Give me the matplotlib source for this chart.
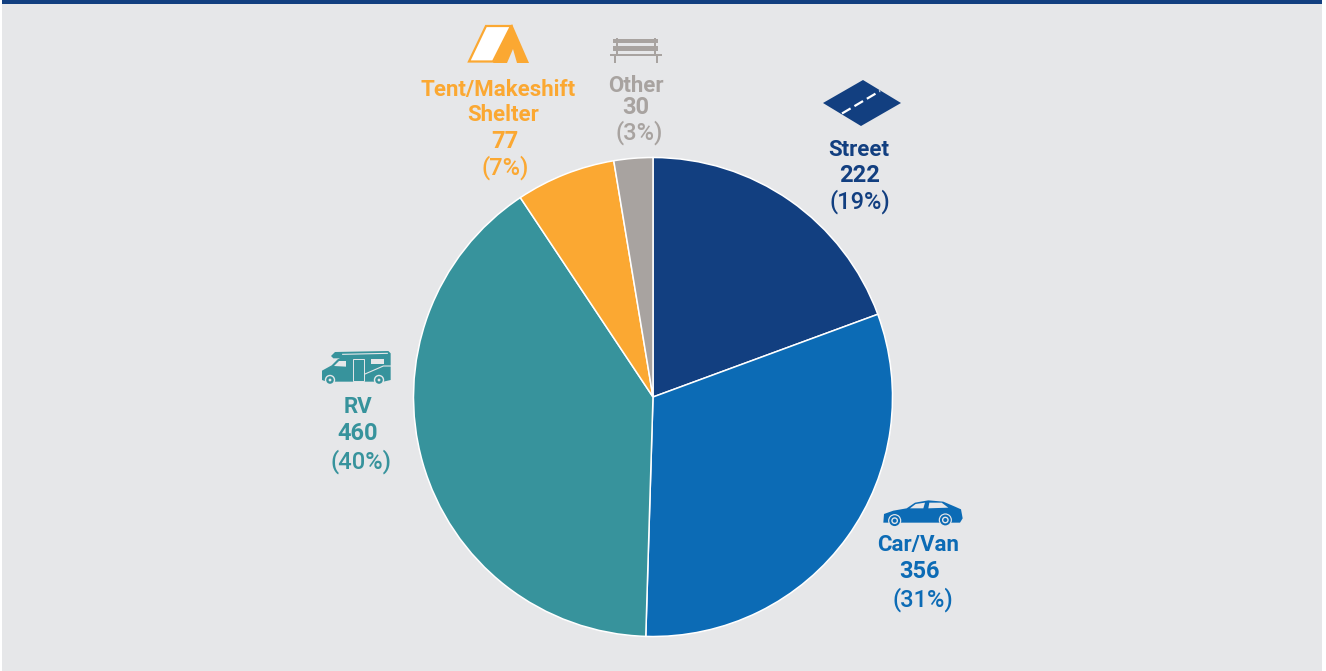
import matplotlib
matplotlib.use("Agg")
import matplotlib.pyplot as plt
from matplotlib.patches import Circle, Polygon, Rectangle

plt.rcParams["font.family"] = ["Roboto", "DejaVu Sans"]

# ── data ──────────────────────────────────────────────────────────────
categories = ["Street", "Car/Van", "RV", "Tent/Makeshift\nShelter", "Other"]
counts = [222, 356, 460, 77, 30]
percents = [19, 31, 40, 7, 3]
colors = ["#123F80", "#0C6BB5", "#37939C", "#FBA832", "#A8A3A0"]

BG = "#E6E7E9"
W, H = 1326, 671

fig = plt.figure(figsize=(W / 100, H / 100), dpi=100, facecolor="white")

# overlay in pixel coordinates, y down
ax = fig.add_axes([0, 0, 1, 1])
ax.set_xlim(0, W)
ax.set_ylim(H, 0)
ax.axis("off")
ax.add_patch(Rectangle((2, 0), 1320, H, fc=BG, ec="none"))
ax.add_patch(Rectangle((2, 0), 1320, 4, fc="#123F80", ec="none"))

# ── pie ───────────────────────────────────────────────────────────────
cx, cy, r = 653, 397, 239.5
pie_ax = fig.add_axes([(cx - r) / W, 1 - (cy + r) / H, 2 * r / W, 2 * r / H])
pie_ax.pie(counts, colors=colors, startangle=90, counterclock=False, radius=1,
           wedgeprops=dict(edgecolor="white", linewidth=1.1))
pie_ax.set_xlim(-1, 1)
pie_ax.set_ylim(-1, 1)

# ── labels: name lines, count, percent ────────────────────────────────
name_pos = [[(859, 150)], [(918, 545)], [(358, 407)], [(498, 90), (503, 115)], [(636, 86)]]
count_pos = [(860, 176), (919, 572), (358, 434), (505, 141), (636, 108)]
pct_pos = [(860, 202), (923, 600), (361, 462), (505, 168), (639, 133)]
FS = 16.0

for i, name in enumerate(categories):
    c = colors[i]
    for line, (x, y) in zip(name.split("\n"), name_pos[i]):
        ax.text(x, y, line, color=c, fontsize=FS, fontweight="bold", ha="center", va="center")
    ax.text(*count_pos[i], str(counts[i]), color=c, fontsize=FS + 1, fontweight="bold",
            ha="center", va="center")
    ax.text(*pct_pos[i], f"({percents[i]}%)", color=c, fontsize=FS + 1, fontweight="medium",
            ha="center", va="center")


# ── icons ─────────────────────────────────────────────────────────────
def poly(points, fc, ec="none", lw=0):
    ax.add_patch(Polygon(points, closed=True, fc=fc, ec=ec, lw=lw, joinstyle="miter"))


def crop_pts(pts, ox, oy):
    return [(ox + a / 3, oy + b / 3) for a, b in pts]


# street
poly([(823, 103), (863, 80), (901, 103), (861, 126)], colors[0])
ax.plot([842, 880], [113.5, 91], color="white", lw=1.6, ls=(0, (4.5, 2)))

# tent
tent = colors[3]
poly([(486, 26), (511, 26), (493, 61.5), (469, 61.5)], "white", ec=tent, lw=1.6)
poly([(512, 24), (529, 63), (517, 63), (513, 49), (507, 63), (493, 63)], tent)

# bench
bench = colors[4]
for rect in [(613, 39, 45, 4), (613, 46, 45, 5), (610, 54, 52, 2)]:
    ax.add_patch(Rectangle(rect[:2], rect[2], rect[3], fc=bench, ec="none"))
for x in (616, 654):
    ax.add_patch(Rectangle((x, 38), 2, 16, fc=bench, ec="none"))
for x in (614, 656):
    ax.add_patch(Rectangle((x, 56), 2, 7, fc=bench, ec="none"))

# rv
rv = colors[2]
ox, oy = 300, 340
poly(crop_pts([(66, 120), (66, 92), (95, 76), (113, 58), (120, 55), (100, 55), (93, 48), (105, 36),
               (265, 33), (272, 40), (272, 120), (250, 125), (120, 125), (80, 125)], ox, oy), rv)
poly(crop_pts([(102, 78), (117, 63), (138, 63), (138, 80)], ox, oy), BG)
poly(crop_pts([(213, 58), (251, 58), (251, 72), (213, 72)], ox, oy), BG)
poly(crop_pts([(160, 58), (193, 58), (193, 122), (160, 122)], ox, oy), rv, ec=BG, lw=0.7)
ax.plot(*zip(*crop_pts([(128, 43), (262, 40)], ox, oy)), color=BG, lw=0.8)
ax.plot(*zip(*crop_pts([(195, 102), (250, 78), (272, 78)], ox, oy)), color=BG, lw=0.8)
for a in (90, 237):
    x, y = crop_pts([(a, 120)], ox, oy)[0]
    ax.add_patch(Circle((x, y), 5.2, fc=BG, ec="none"))
    ax.add_patch(Circle((x, y), 3.8, fc=rv, ec="none"))
    ax.add_patch(Circle((x, y), 1.4, fc=BG, ec="none"))

# car
car = colors[1]
ox, oy = 860, 490
poly(crop_pts([(70, 98), (72, 72), (100, 62), (140, 55), (165, 38), (205, 31), (250, 35), (285, 50),
               (303, 58), (308, 85), (300, 98)], ox, oy), car)
poly(crop_pts([(150, 55), (167, 42), (195, 38), (190, 55)], ox, oy), BG)
poly(crop_pts([(208, 38), (245, 38), (265, 53), (205, 55)], ox, oy), BG)
for a, b in ((104, 92), (256, 90)):
    x, y = crop_pts([(a, b)], ox, oy)[0]
    ax.add_patch(Circle((x, y), 6.6, fc=BG, ec="none"))
    ax.add_patch(Circle((x, y), 5.4, fc=car, ec="none"))
    ax.add_patch(Circle((x, y), 3.4, fc=BG, ec="none"))
    ax.add_patch(Circle((x, y), 2, fc=car, ec="none"))

fig.savefig("out.png", dpi=100)
